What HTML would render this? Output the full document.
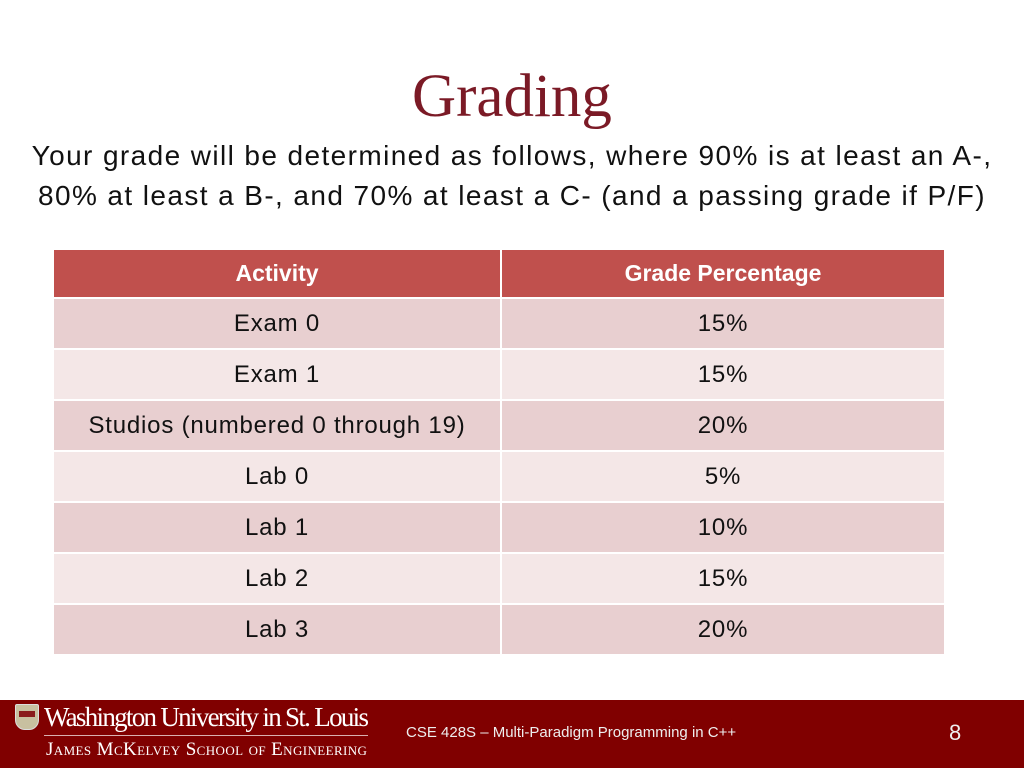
<!DOCTYPE html>
<html><head><meta charset="utf-8"><style>
body{margin:0;width:1024px;height:768px;position:relative;background:#fff;font-family:"Liberation Sans",sans-serif;overflow:hidden}
.abs{position:absolute}
#title{left:0;width:1024px;top:62px;text-align:center;font-family:"Liberation Serif",serif;font-size:61px;color:#7b1a26}
.sub{left:0;width:1024px;text-align:center;font-size:28px;letter-spacing:1.4px;color:#111;white-space:nowrap}
table{position:absolute;left:52px;top:248px;width:894px;border-collapse:collapse}
td,th{text-align:center;font-size:24px;color:#111;padding:0;border:2px solid #fff}
td{letter-spacing:0.8px}
th{background:#c0504d;color:#fff;font-weight:bold;height:47px;font-size:23px}
td{height:49px}
tr.o td{background:#e8cfd0}
tr.e td{background:#f4e7e7}
#footer{left:0;top:700px;width:1024px;height:68px;background:#800000}
</style></head><body>
<div id="title" class="abs">Grading</div>
<div class="abs sub" style="top:140px">Your grade will be determined as follows, where 90% is at least an A-,</div>
<div class="abs sub" style="top:180px">80% at least a B-, and 70% at least a C- (and a passing grade if P/F)</div>
<table>
<tr><th style="width:446px">Activity</th><th>Grade Percentage</th></tr>
<tr class="o"><td>Exam 0</td><td>15%</td></tr>
<tr class="e"><td>Exam 1</td><td>15%</td></tr>
<tr class="o"><td>Studios (numbered 0 through 19)</td><td>20%</td></tr>
<tr class="e"><td>Lab 0</td><td>5%</td></tr>
<tr class="o"><td>Lab 1</td><td>10%</td></tr>
<tr class="e"><td>Lab 2</td><td>15%</td></tr>
<tr class="o"><td>Lab 3</td><td>20%</td></tr>
</table>
<div id="footer" class="abs">
 <div class="abs" style="left:15px;top:4px;width:22px;height:24px;background:#c8c0a0;border-radius:2px 2px 10px 10px;border:1px solid #ddd"><div style="margin:6px 3px;height:6px;background:#8a1c1c"></div></div>
 <div class="abs" style="left:44px;top:2px;font-family:'Liberation Serif',serif;font-size:27px;color:#fff;letter-spacing:-1.7px;white-space:nowrap">Washington University in St. Louis</div>
 <div class="abs" style="left:44px;top:35px;width:324px;height:1px;background:#d9b0b0"></div>
 <div class="abs" style="left:46px;top:39px;font-family:'Liberation Serif',serif;font-size:19px;color:#fff;white-space:nowrap;font-variant:small-caps;letter-spacing:0.4px">James McKelvey School of Engineering</div>
 <div class="abs" style="left:406px;top:24px;font-size:15px;color:#eee;white-space:nowrap">CSE 428S – Multi-Paradigm Programming in C++</div>
 <div class="abs" style="left:949px;top:20px;font-size:22px;color:#eee">8</div>
</div>
</body></html>
